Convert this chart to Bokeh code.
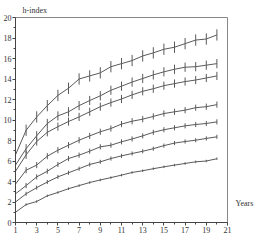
from bokeh.plotting import figure
from bokeh.models import FixedTicker, LinearAxis
from bokeh.embed import file_html
from bokeh.resources import INLINE

years = list(range(1, 21))
s1 = [1.0, 1.75, 2.05, 2.6, 2.93, 3.3, 3.6, 3.9, 4.15, 4.38, 4.62, 4.88, 5.05, 5.25, 5.43, 5.6, 5.76, 5.92, 6.0, 6.22]
s2 = [2.0, 2.8, 3.4, 3.95, 4.45, 4.85, 5.25, 5.66, 5.92, 6.24, 6.5, 6.73, 6.95, 7.2, 7.5, 7.75, 7.9, 8.03, 8.2, 8.36]
s3 = [2.8, 3.6, 4.45, 5.0, 5.66, 6.24, 6.57, 6.96, 7.38, 7.54, 7.87, 8.15, 8.45, 8.8, 9.05, 9.24, 9.43, 9.56, 9.66, 9.82]
s4 = [3.75, 5.1, 5.6, 6.47, 7.05, 7.54, 8.03, 8.45, 8.85, 9.17, 9.6, 9.88, 10.08, 10.35, 10.63, 10.8, 10.96, 11.2, 11.3, 11.5]
s5 = [5.0, 6.6, 7.9, 8.8, 9.35, 9.85, 10.3, 10.8, 11.3, 11.7, 12.05, 12.45, 12.8, 13.05, 13.35, 13.55, 13.75, 13.9, 14.1, 14.3]
s6 = [5.6, 7.2, 8.46, 9.66, 10.4, 10.8, 11.4, 11.9, 12.36, 12.9, 13.3, 13.7, 14.05, 14.4, 14.7, 14.95, 15.15, 15.2, 15.35, 15.5]
s7 = [6.6, 9.0, 10.3, 11.4, 12.4, 13.1, 14.0, 14.3, 14.6, 15.2, 15.5, 15.8, 16.25, 16.55, 16.9, 17.1, 17.45, 17.8, 17.9, 18.3]
series = [s1, s2, s3, s4, s5, s6, s7]
errs = [0.12, 0.2, 0.25, 0.3, 0.4, 0.45, 0.55]

x_ticks = [1, 3, 5, 7, 9, 11, 13, 15, 17, 19, 21]
x_minor = [2, 4, 6, 8, 10, 12, 14, 16, 18, 20]
y_ticks = [0, 2, 4, 6, 8, 10, 12, 14, 16, 18, 20]
y_minor = [1, 3, 5, 7, 9, 11, 13, 15, 17, 19]
x_title = "Years"
x_title_at = 1.85
y_title = "h-index"

FONT = "Liberation Serif"
LINE = "#5a5a5a"
TXT = "#333333"

p = figure(frame_width=212, frame_height=205, x_range=(1, 21), y_range=(0, 20),
           output_backend="svg", toolbar_location=None,
           min_border_left=0, min_border_right=0, min_border_top=0, min_border_bottom=0)

p.grid.visible = False
p.outline_line_color = "#888888"
p.outline_line_width = 1

p.title.text = y_title
p.title.text_font = FONT
p.title.text_font_size = "8px"
p.title.text_font_style = "normal"
p.title.text_color = TXT
p.title.offset = 7
p.title.standoff = 6

for ax in (p.xaxis[0], p.yaxis[0]):
    ax.axis_line_color = "#444444"
    ax.major_tick_line_color = "#444444"
    ax.minor_tick_line_color = "#444444"
    ax.major_tick_out = 3
    ax.major_tick_in = 0
    ax.minor_tick_out = 2
    ax.minor_tick_in = 0
    ax.major_label_text_font = FONT
    ax.major_label_text_font_size = "8px"
    ax.major_label_text_color = TXT
    ax.major_label_standoff = 1

p.xaxis[0].ticker = FixedTicker(ticks=x_ticks, minor_ticks=x_minor)
p.yaxis[0].ticker = FixedTicker(ticks=y_ticks, minor_ticks=y_minor)

# right-side axis carrying only the "Years" caption
rax = LinearAxis(ticker=FixedTicker(ticks=[x_title_at]),
                 major_label_overrides={x_title_at: x_title})
rax.axis_line_color = None
rax.major_tick_line_color = None
rax.minor_tick_line_color = None
rax.major_tick_out = 0
rax.major_tick_in = 0
rax.minor_tick_out = 0
rax.minor_tick_in = 0
rax.major_label_standoff = 8
rax.major_label_text_font = FONT
rax.major_label_text_font_size = "8px"
rax.major_label_text_color = TXT
p.add_layout(rax, "right")

for s, e in zip(series, errs):
    p.line(years, s, line_color=LINE, line_width=1)
    lo = [v - e for v in s]
    hi = [v + e for v in s]
    p.segment(x0=years, y0=lo, x1=years, y1=hi, line_color=LINE, line_width=1)

open("out.html", "w").write(file_html(p, INLINE))
